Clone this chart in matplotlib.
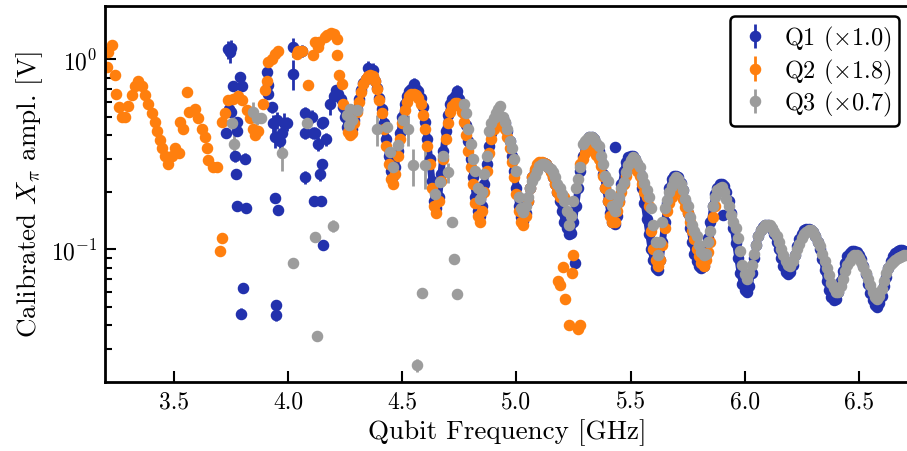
#import the modules we need
import numpy as np
import matplotlib
matplotlib.use("Agg")
import matplotlib.pyplot as plt

#computer modern look, like the latex figure
plt.rcParams['font.family'] = 'serif'
plt.rcParams['font.serif'] = ['cmr10']
plt.rcParams['mathtext.fontset'] = 'cm'
plt.rcParams['axes.formatter.use_mathtext'] = True

# ---------------- data ----------------
# Q1 sweep, 0.01 GHz steps starting at 4.20 GHz (one row per 0.1 GHz)
q1_start = 4.20
q1_amp = [
    0.64, 0.69, 0.66, 0.62, 0.56, 0.50, 0.44, 0.41, 0.43, 0.48,    # 4.20
    0.55, 0.62, 0.69, 0.75, 0.79, 0.81, 0.82, 0.81, 0.77, 0.71,    # 4.30
    0.63, 0.55, 0.46, 0.38, 0.31, 0.26, 0.245, 0.27, 0.33, 0.41,   # 4.40
    0.50, 0.58, 0.64, 0.68, 0.70, 0.71, 0.70, 0.68, 0.63, 0.56,    # 4.50
    0.47, 0.38, 0.30, 0.23, 0.18, 0.165, 0.19, 0.25, 0.33, 0.42,   # 4.60
    0.51, 0.58, 0.62, 0.64, 0.64, 0.62, 0.58, 0.52, 0.45, 0.37,    # 4.70
    0.30, 0.24, 0.19, 0.16, 0.15, 0.17, 0.22, 0.28, 0.35, 0.41,    # 4.80
    0.46, 0.49, 0.50, 0.50, 0.49, 0.46, 0.42, 0.37, 0.31, 0.26,    # 4.90
    0.21, 0.17, 0.148, 0.142, 0.155, 0.18, 0.21, 0.24, 0.26, 0.275,  # 5.00
    0.28, 0.285, 0.285, 0.28, 0.27, 0.26, 0.24, 0.22, 0.20, 0.18,  # 5.10
    0.16, 0.14, 0.13, 0.12, 0.122, 0.14, 0.17, 0.21, 0.26, 0.31,   # 5.20
    0.35, 0.375, 0.39, 0.39, 0.38, 0.36, 0.33, 0.29, 0.25, 0.21,   # 5.30
    0.18, 0.155, 0.14, 0.137, 0.15, 0.18, 0.22, 0.26, 0.29, 0.305,  # 5.40
    0.31, 0.31, 0.30, 0.28, 0.25, 0.21, 0.175, 0.145, 0.12, 0.10,  # 5.50
    0.088, 0.08, 0.078, 0.088, 0.11, 0.14, 0.175, 0.21, 0.235, 0.245,  # 5.60
    0.245, 0.24, 0.225, 0.205, 0.18, 0.155, 0.13, 0.11, 0.095, 0.087,  # 5.70
    0.082, 0.08, 0.082, 0.095, 0.115, 0.14, 0.17, 0.195, 0.21, 0.22,   # 5.80
    0.22, 0.215, 0.20, 0.18, 0.155, 0.13, 0.108, 0.09, 0.075, 0.066,   # 5.90
    0.061, 0.06, 0.064, 0.075, 0.09, 0.105, 0.118, 0.127, 0.132, 0.135,  # 6.00
    0.135, 0.133, 0.128, 0.12, 0.11, 0.10, 0.09, 0.082, 0.076, 0.074,   # 6.10
    0.076, 0.083, 0.093, 0.104, 0.114, 0.121, 0.126, 0.128, 0.128, 0.127,  # 6.20
    0.124, 0.118, 0.11, 0.10, 0.089, 0.078, 0.068, 0.061, 0.056, 0.054,  # 6.30
    0.055, 0.06, 0.068, 0.077, 0.085, 0.092, 0.096, 0.098, 0.098, 0.097,  # 6.40
    0.094, 0.089, 0.082, 0.074, 0.066, 0.059, 0.054, 0.051, 0.05, 0.052,  # 6.50
    0.057, 0.064, 0.072, 0.08, 0.087, 0.092, 0.096, 0.098, 0.099, 0.099,  # 6.60
    0.098, 0.097, 0.096,                                                # 6.70
]
# Q1 scattered points below 4.2 GHz and outliers (freq, amp, err)
q1_scat_f = [3.738, 3.745, 3.752, 3.79, 3.76, 3.80, 3.74, 3.75, 3.775, 3.73,
             3.775, 3.767, 3.81, 3.77, 3.775, 3.814, 3.804, 3.792, 3.906, 3.913,
             3.912, 3.928, 3.935, 3.95, 3.942, 3.965, 3.98, 3.975, 3.995, 3.942,
             3.954, 3.945, 3.947, 4.022, 4.022, 4.06, 4.074, 4.103, 4.118, 4.147,
             4.132, 4.074, 4.11, 4.074, 4.147, 4.14, 4.115, 4.143, 4.154, 4.153,
             4.166, 4.183, 4.35, 4.37, 4.55, 4.74, 5.256, 5.431, 5.906]
q1_scat_a = [1.13, 1.10, 1.15, 0.81, 0.72, 0.72, 0.55, 0.53, 0.47, 0.41,
             0.42, 0.31, 0.30, 0.25, 0.17, 0.165, 0.063, 0.046, 0.86, 0.73,
             0.66, 0.56, 0.46, 0.48, 0.39, 0.37, 0.46, 0.41, 0.46, 0.186,
             0.162, 0.051, 0.045, 1.16, 0.84, 1.11, 0.52, 0.50, 0.41, 0.46,
             0.36, 0.41, 0.41, 0.24, 0.28, 0.25, 0.18, 0.18, 0.105, 0.47,
             0.38, 0.58, 0.90, 0.88, 0.74, 0.68, 0.085, 0.346, 0.151]
q1_scat_e = [0.12, 0.14, 0.12, 0.03, 0.03, 0.03, 0.03, 0.03, 0.03, 0.02,
             0.02, 0.02, 0.02, 0.01, 0.01, 0.01, 0.003, 0.003, 0.05, 0.04,
             0.04, 0.04, 0.05, 0.05, 0.05, 0.04, 0.06, 0.05, 0.04, 0.01,
             0.01, 0.003, 0.003, 0.13, 0.15, 0.08, 0.04, 0.04, 0.03, 0.03,
             0.03, 0.03, 0.03, 0.02, 0.02, 0.02, 0.01, 0.01, 0.005, 0.03,
             0.03, 0.07, 0.08, 0.08, 0.06, 0.05, 0.004, 0.01, 0.005]

# Q2 low frequency part (freq, amp)
q2_low_f = [3.205, 3.212, 3.227, 3.242, 3.246, 3.26, 3.271, 3.285, 3.30, 3.315,
            3.33, 3.344, 3.358, 3.373, 3.387, 3.402, 3.417, 3.427, 3.439, 3.446,
            3.46, 3.475, 3.49, 3.504, 3.522, 3.526, 3.541, 3.558, 3.567, 3.592,
            3.606, 3.621, 3.636, 3.646, 3.65, 3.672, 3.687, 3.70, 3.712, 3.709,
            3.723, 3.738, 3.76, 3.78, 3.80, 3.818, 3.833, 3.846, 3.855, 3.87,
            3.891, 3.899, 3.906, 3.913, 3.928, 3.942, 3.957, 4.037, 4.045, 4.06,
            4.088, 4.11, 4.118, 4.132, 4.135, 4.16, 4.169, 4.19, 4.20, 4.213,
            4.215, 4.224, 4.235, 4.242, 4.263]
q2_low_a = [0.91, 1.09, 1.185, 0.83, 0.66, 0.56, 0.50, 0.50, 0.57, 0.65,
            0.72, 0.77, 0.72, 0.65, 0.58, 0.52, 0.47, 0.42, 0.375, 0.34,
            0.31, 0.28, 0.31, 0.34, 0.32, 0.47, 0.43, 0.67, 0.53, 0.55,
            0.49, 0.43, 0.39, 0.34, 0.295, 0.27, 0.27, 0.098, 0.115, 0.47,
            0.52, 0.61, 0.62, 0.64, 0.61, 0.54, 0.49, 0.43, 0.40, 0.42,
            0.58, 0.69, 0.77, 0.97, 1.01, 1.07, 1.11, 1.07, 1.11, 1.11,
            0.73, 1.05, 1.23, 1.16, 1.23, 1.31, 1.34, 1.37, 1.36, 1.28,
            1.05, 0.83, 0.74, 0.58, 0.415]
# Q2 sweep from 4.27 GHz, 0.01 GHz steps
q2_start_a = 4.27
q2_amp_a = [
    0.40, 0.41, 0.46,                                                  # 4.27
    0.53, 0.60, 0.67, 0.74, 0.79, 0.82, 0.83, 0.82, 0.77, 0.70,        # 4.30
    0.61, 0.52, 0.43, 0.35, 0.28, 0.235, 0.22, 0.25, 0.31, 0.38,       # 4.40
    0.46, 0.54, 0.60, 0.64, 0.66, 0.66, 0.65, 0.63, 0.58, 0.51,        # 4.50
    0.43, 0.35, 0.28, 0.21, 0.17, 0.155, 0.18, 0.23, 0.30, 0.38,       # 4.60
    0.46, 0.53, 0.57, 0.59, 0.59, 0.57, 0.53, 0.47, 0.40, 0.33,        # 4.70
    0.27, 0.22, 0.175, 0.15, 0.14, 0.16, 0.20, 0.26, 0.32, 0.38,       # 4.80
    0.43, 0.46, 0.47, 0.47, 0.46, 0.43, 0.39, 0.34, 0.29, 0.24,        # 4.90
    0.195, 0.16, 0.14, 0.135, 0.15, 0.18, 0.21, 0.24, 0.265, 0.28,     # 5.00
    0.29, 0.29, 0.285, 0.28, 0.27, 0.255, 0.24, 0.22, 0.20, 0.19,      # 5.10
    0.19, 0.19,                                                        # 5.20
]
# Q2 drop-outs around 5.2 GHz
q2_out_f = [5.249, 5.205, 5.242, 5.183, 5.19, 5.212, 5.231, 5.271, 5.278]
q2_out_a = [0.093, 0.081, 0.075, 0.068, 0.065, 0.055, 0.040, 0.038, 0.040]
# Q2 sweep from 5.28 GHz
q2_start_b = 5.28
q2_amp_b = [
    0.28, 0.30,                                                        # 5.28
    0.32, 0.335, 0.34, 0.34, 0.33, 0.315, 0.30, 0.275, 0.245, 0.21,    # 5.30
    0.18, 0.15, 0.139, 0.14, 0.16, 0.178, 0.20, 0.22, 0.245, 0.265,    # 5.40
    0.275, 0.277, 0.27, 0.258, 0.245, 0.22, 0.20, 0.19, 0.17, 0.125,   # 5.50
    0.10, 0.088, 0.082, 0.088, 0.105, 0.13, 0.16, 0.175, 0.19, 0.205,  # 5.60
    0.213, 0.21, 0.20, 0.185, 0.168, 0.155, 0.14, 0.125, 0.114, 0.10,  # 5.70
    0.092, 0.085, 0.082, 0.088, 0.097, 0.11, 0.148, 0.17,              # 5.80
]

# Q3 scattered points (freq, amp, err)
q3_scat_f = [3.753, 3.763, 3.847, 3.862, 3.88, 3.972, 4.081, 4.023, 4.118, 4.128,
             4.198, 4.256, 4.265, 4.272, 4.28, 4.30, 4.388, 4.432, 4.446, 4.461,
             4.483, 4.505, 4.526, 4.548, 4.60, 4.643, 4.665, 4.68, 4.702, 4.716,
             4.726, 4.738, 4.586, 4.563]
q3_scat_a = [0.46, 0.36, 0.53, 0.49, 0.49, 0.32, 0.46, 0.085, 0.116, 0.035,
             0.133, 0.51, 0.45, 0.55, 0.477, 0.54, 0.43, 0.44, 0.326, 0.27,
             0.353, 0.477, 0.43, 0.277, 0.277, 0.197, 0.227, 0.31, 0.255, 0.14,
             0.089, 0.058, 0.059, 0.0247]
q3_scat_e = [0.03, 0.04, 0.07, 0.04, 0.03, 0.06, 0.07, 0.003, 0.004, 0.002,
             0.01, 0.03, 0.03, 0.03, 0.03, 0.03, 0.08, 0.03, 0.02, 0.02,
             0.02, 0.03, 0.08, 0.06, 0.07, 0.01, 0.01, 0.02, 0.03, 0.005,
             0.004, 0.003, 0.003, 0.002]
# Q3 sweep from 4.77 GHz
q3_start = 4.77
q3_amp = [
    0.58, 0.52, 0.43,                                                  # 4.77
    0.36, 0.30, 0.26, 0.21, 0.185, 0.20, 0.25, 0.31, 0.42, 0.46,       # 4.80
    0.49, 0.52, 0.55, 0.57, 0.50, 0.47, 0.43, 0.37, 0.34, 0.30,        # 4.90
    0.26, 0.19, 0.165, 0.157, 0.17, 0.19, 0.21, 0.23, 0.245, 0.26,     # 5.00
    0.275, 0.28, 0.28, 0.277, 0.27, 0.265, 0.255, 0.24, 0.22, 0.21,    # 5.10
    0.195, 0.18, 0.16, 0.135, 0.15, 0.18, 0.21, 0.235, 0.27, 0.36,     # 5.20
    0.37, 0.38, 0.39, 0.39, 0.38, 0.365, 0.35, 0.31, 0.28, 0.245,      # 5.30
    0.23, 0.196, 0.17, 0.16, 0.175, 0.189, 0.21, 0.227, 0.255, 0.277,  # 5.40
    0.295, 0.307, 0.30, 0.285, 0.27, 0.245, 0.225, 0.205, 0.19, 0.165,  # 5.50
    0.135, 0.11, 0.093, 0.11, 0.14, 0.165, 0.182, 0.20, 0.217, 0.232,   # 5.60
    0.241, 0.235, 0.222, 0.205, 0.185, 0.17, 0.148, 0.135, 0.125, 0.118,  # 5.70
    0.105, 0.097, 0.093, 0.095, 0.11, 0.125, 0.17, 0.19, 0.205, 0.21,   # 5.80
    0.213, 0.20, 0.185, 0.17, 0.152, 0.14, 0.13, 0.115, 0.098, 0.083,   # 5.90
    0.074, 0.07, 0.075, 0.083, 0.095, 0.105, 0.118, 0.126, 0.13, 0.134,  # 6.00
    0.135, 0.134, 0.13, 0.124, 0.118, 0.11, 0.101, 0.093, 0.087, 0.083,  # 6.10
    0.082, 0.087, 0.093, 0.10, 0.107, 0.115, 0.12, 0.124, 0.126, 0.126,  # 6.20
    0.124, 0.118, 0.11, 0.104, 0.095, 0.087, 0.08, 0.073, 0.067, 0.063,  # 6.30
    0.06, 0.06, 0.064, 0.07, 0.077, 0.083, 0.087, 0.091, 0.093, 0.093,   # 6.40
    0.09, 0.086, 0.081, 0.075, 0.07, 0.065, 0.06, 0.056, 0.055, 0.057,   # 6.50
    0.062, 0.068, 0.075, 0.08, 0.084, 0.086, 0.088, 0.09, 0.091, 0.092,  # 6.60
    0.093, 0.093,                                                       # 6.70
]

labels = [r'Q1 ($\times1.0$)', r'Q2 ($\times1.8$)', r'Q3 ($\times0.7$)']
colors = ['#2231ad', '#ff7f0e', '#9c9c9c']


#helper: frequencies of a sweep with 10 MHz steps
def sweep_freq(start, amps):
    return np.round(start + 0.01 * np.arange(len(amps)), 2)


#join sweep and scattered points of one qubit into one set of arrays
def join(parts):
    f = np.concatenate([np.asarray(p[0], float) for p in parts])
    a = np.concatenate([np.asarray(p[1], float) for p in parts])
    e = np.concatenate([np.asarray(p[2], float) if p[2] is not None
                        else np.zeros(len(p[0])) for p in parts])
    return f, a, e


q1 = join([(q1_scat_f, q1_scat_a, q1_scat_e),
           (sweep_freq(q1_start, q1_amp), q1_amp, None)])
q2 = join([(q2_low_f, q2_low_a, None),
           (sweep_freq(q2_start_a, q2_amp_a), q2_amp_a, None),
           (q2_out_f, q2_out_a, None),
           (sweep_freq(q2_start_b, q2_amp_b), q2_amp_b, None)])
q3 = join([(q3_scat_f, q3_scat_a, q3_scat_e),
           (sweep_freq(q3_start, q3_amp), q3_amp, None)])

# ---------------- plot ----------------
fig = plt.figure(figsize=(9.07, 4.52), dpi=100)
ax = fig.add_axes([0.1163, 0.1527, 0.8867, 0.8329])

#the Q1 sweep is very dense in the original, a thick band under the dots
ax.plot(sweep_freq(q1_start, q1_amp), q1_amp, '-', lw=5, color=colors[0],
        solid_capstyle='round')

for (f, a, e), lab, col in zip([q1, q2, q3], labels, colors):
    ax.errorbar(f, a, yerr=e, fmt='o', ms=7.3, color=col, ecolor=col,
                elinewidth=2, capsize=0, label=lab)

ax.set_yscale('log')
ax.set_xlim(3.2, 6.723)
ax.set_ylim(0.0201, 1.92)
ax.set_xticks([3.5, 4.0, 4.5, 5.0, 5.5, 6.0, 6.5])
ax.set_xticklabels(['3.5', '4.0', '4.5', '5.0', '5.5', '6.0', '6.5'])

ax.tick_params(which='both', direction='in', top=False, right=False,
               labelsize=17, width=1.5)
ax.tick_params(which='major', length=8, pad=6)
ax.tick_params(which='minor', length=5)
for s in ax.spines.values():
    s.set_linewidth(2)

ax.set_xlabel('Qubit Frequency [GHz]', fontsize=19.5, labelpad=4)
ax.set_ylabel(r'Calibrated $X_\pi$ ampl. [V]', fontsize=19.5, labelpad=4)

leg = ax.legend(loc='upper right', fontsize=17.5, fancybox=True,
                framealpha=1, borderaxespad=0.45, handletextpad=0.5,
                labelspacing=0.15, borderpad=0.3, handlelength=1.4)
leg.get_frame().set_edgecolor('black')
leg.get_frame().set_linewidth(1.8)

fig.savefig('out.png', dpi=100)
